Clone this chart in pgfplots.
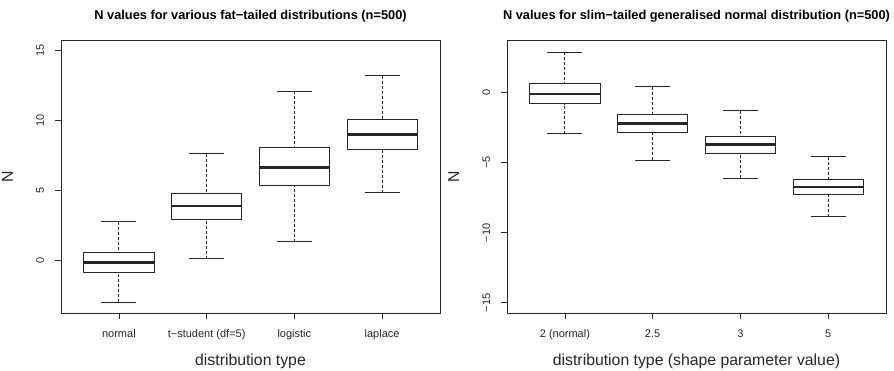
\documentclass[border=0pt]{standalone}
\usepackage{fontspec}
\setmainfont{Liberation Sans}
\usepackage{pgfplots}
\pgfplotsset{compat=1.18}
\usepgfplotslibrary{statistics}

\pgfplotsset{
  boxplot/draw/lower whisker/.code={%
    \draw[dash pattern=on 3pt off 2pt]
      (boxplot cs:\pgfplotsboxplotvalue{lower whisker})
      -- (boxplot cs:\pgfplotsboxplotvalue{lower quartile});
    \draw[solid]
      (boxplot whisker cs:\pgfplotsboxplotvalue{lower whisker},0)
      -- (boxplot whisker cs:\pgfplotsboxplotvalue{lower whisker},1);
  },
  boxplot/draw/upper whisker/.code={%
    \draw[dash pattern=on 3pt off 2pt]
      (boxplot cs:\pgfplotsboxplotvalue{upper whisker})
      -- (boxplot cs:\pgfplotsboxplotvalue{upper quartile});
    \draw[solid]
      (boxplot whisker cs:\pgfplotsboxplotvalue{upper whisker},0)
      -- (boxplot whisker cs:\pgfplotsboxplotvalue{upper whisker},1);
  },
  rbp/.style={draw=black!85, line width=0.9pt, solid,
    boxplot/draw direction=y,
    boxplot/box extend=0.8, boxplot/whisker extend=0.4,
    boxplot/every median/.style={line width=2.6pt}},
  rbox/.style={
    scale only axis, width=379pt, height=273pt, anchor=south west,
    xmin=0.34, xmax=4.66, xtick={1,2,3,4},
    tick align=outside, tick pos=left, major tick length=6pt,
    tick style={black!85, line width=0.8pt},
    axis line style={black!85, line width=0.8pt},
    ticklabel style={font=\fontsize{11}{13}\selectfont, text=black!85},
    xticklabel style={anchor=base, yshift=-18pt},
    yticklabel style={rotate=90, anchor=base, yshift=11pt},
    title style={font=\bfseries\fontsize{12.8}{15}\selectfont,
      at={(rel axis cs:0.5,1)}, anchor=base, yshift=14.5pt},
    xlabel style={font=\fontsize{15.8}{18}\selectfont, text=black!85,
      at={(rel axis cs:0.5,0)}, anchor=base, yshift=-52pt},
    ylabel style={font=\fontsize{15.8}{18}\selectfont, text=black!85,
      at={(rel axis cs:0,0.5)}, anchor=base, yshift=48pt},
    ylabel={N},
  }
}

\begin{document}
\begin{tikzpicture}
\path[use as bounding box] (0,0) rectangle (894pt,370pt);

\begin{axis}[rbox, at={(61pt,57pt)},
  ymin=-3.72, ymax=15.72, ytick={0,5,10,15}, yticklabels={0,5,10,15},
  xticklabels={normal,{t−student (df=5)},logistic,laplace},
  title={N values for various fat−tailed distributions (n=500)},
  xlabel={distribution type}]
\addplot[rbp, boxplot prepared={draw position=1, lower whisker=-2.96, lower quartile=-0.83, median=-0.12, upper quartile=0.59, upper whisker=2.77}] coordinates {};
\addplot[rbp, boxplot prepared={draw position=2, lower whisker=0.14, lower quartile=2.96, median=3.89, upper quartile=4.81, upper whisker=7.63}] coordinates {};
\addplot[rbp, boxplot prepared={draw position=3, lower whisker=1.35, lower quartile=5.37, median=6.63, upper quartile=8.08, upper whisker=12.08}] coordinates {};
\addplot[rbp, boxplot prepared={draw position=4, lower whisker=4.83, lower quartile=7.96, median=9.0, upper quartile=10.09, upper whisker=13.17}] coordinates {};
\end{axis}

\begin{axis}[rbox, at={(507pt,57pt)},
  ymin=-15.72, ymax=3.72, ytick={-15,-10,-5,0}, yticklabels={−15,−10,−5,0},
  xticklabels={2 (normal),2.5,3,5},
  title={N values for slim−tailed generalised normal distribution (n=500)},
  xlabel={distribution type (shape parameter value)}]
\addplot[rbp, boxplot prepared={draw position=1, lower whisker=-2.96, lower quartile=-0.81, median=-0.12, upper quartile=0.64, upper whisker=2.83}] coordinates {};
\addplot[rbp, boxplot prepared={draw position=2, lower whisker=-4.84, lower quartile=-2.86, median=-2.21, upper quartile=-1.57, upper whisker=0.40}] coordinates {};
\addplot[rbp, boxplot prepared={draw position=3, lower whisker=-6.12, lower quartile=-4.34, median=-3.71, upper quartile=-3.12, upper whisker=-1.31}] coordinates {};
\addplot[rbp, boxplot prepared={draw position=4, lower whisker=-8.88, lower quartile=-7.29, median=-6.74, upper quartile=-6.21, upper whisker=-4.60}] coordinates {};
\end{axis}
\end{tikzpicture}
\end{document}
